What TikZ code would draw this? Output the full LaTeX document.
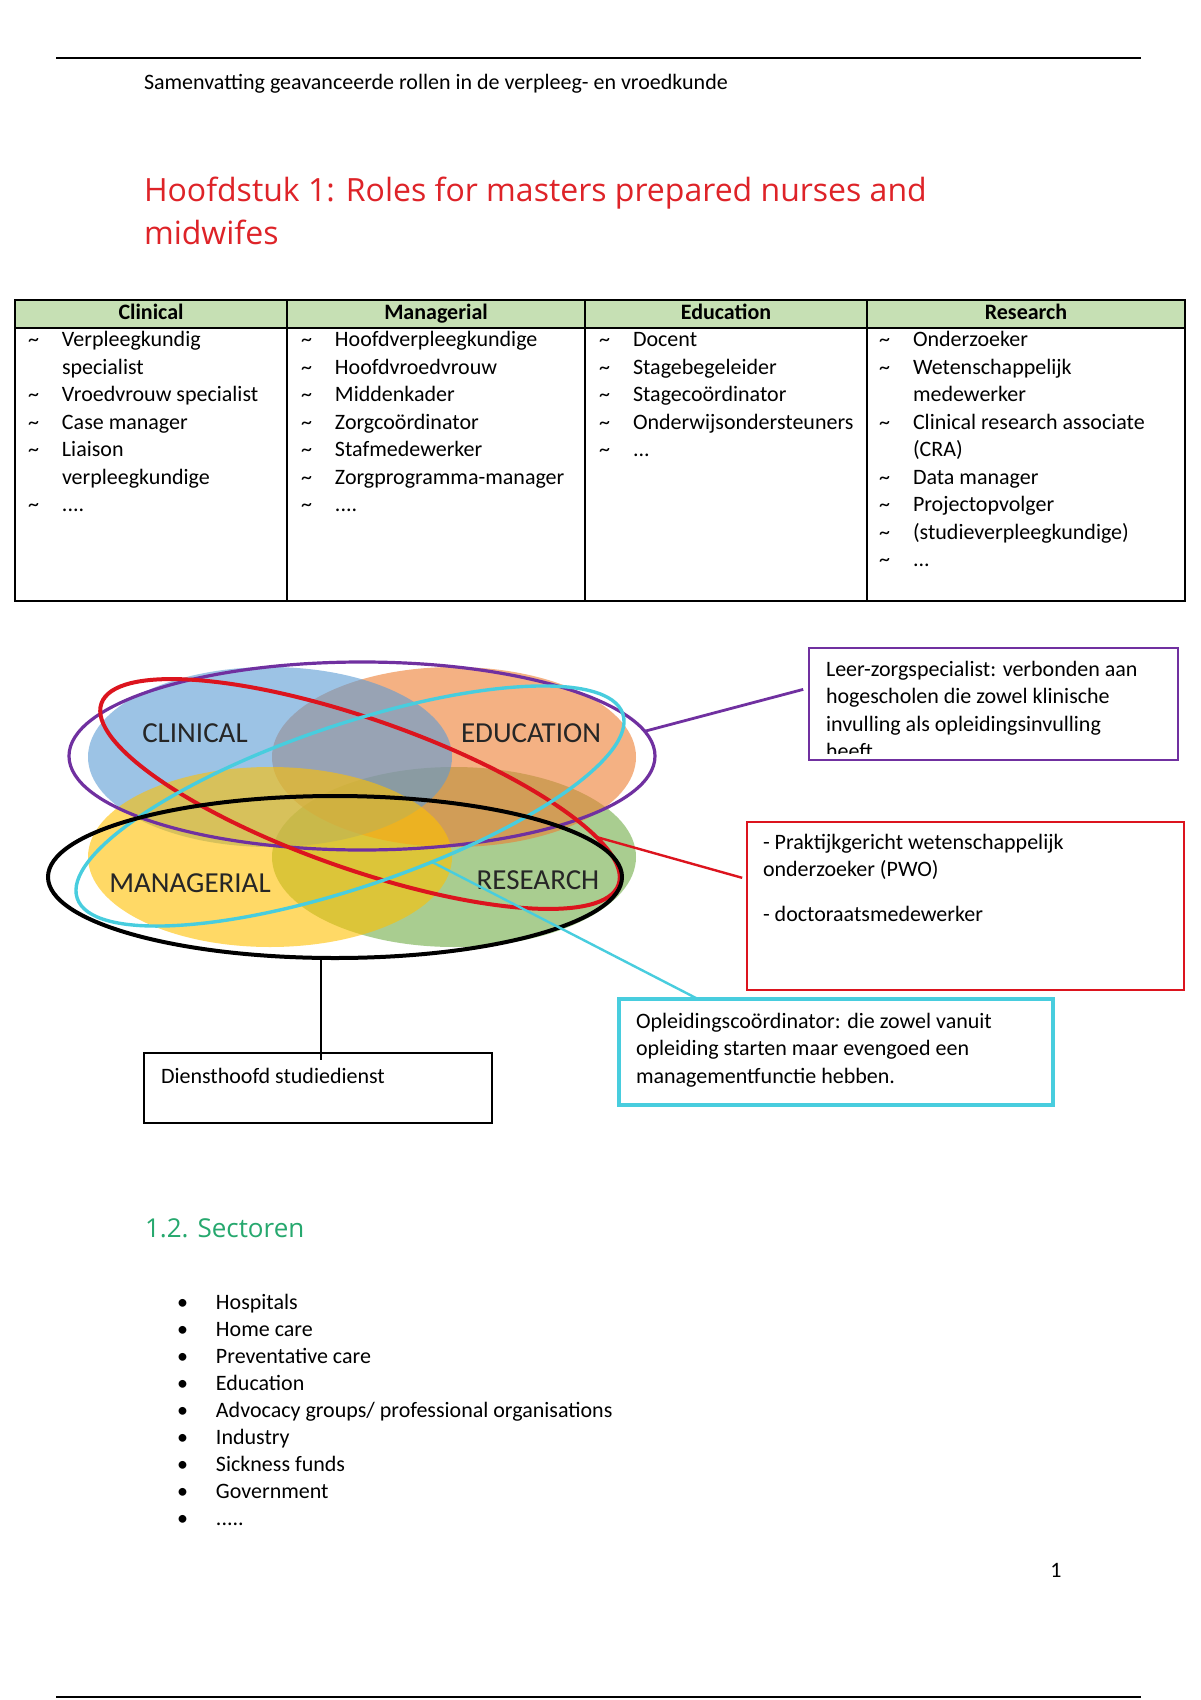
\documentclass[tikz,border=0pt]{standalone}
\usepackage{fontspec}
\setmainfont{Carlito}
\newfontfamily\headfont{Open Sans}
\usepackage{xcolor}
\usetikzlibrary{shapes.geometric,positioning}
\definecolor{TitleRed}{RGB}{222,35,40}
\definecolor{HeadGreen}{RGB}{198,224,180}
\definecolor{SectGreen}{RGB}{38,168,110}
\definecolor{VennBlue}{RGB}{91,155,213}
\definecolor{VennOrange}{RGB}{237,125,49}
\definecolor{VennYellow}{RGB}{255,192,0}
\definecolor{VennGreen}{RGB}{112,173,71}
\definecolor{RingPurple}{RGB}{112,48,160}
\definecolor{RingRed}{RGB}{220,20,30}
\definecolor{RingCyan}{RGB}{72,205,222}
\newcommand{\bodysize}{\fontsize{11pt}{13.75pt}\selectfont}

\begin{document}
\begin{tikzpicture} [x=0.5pt, y=-0.5pt, black, text=black,
	   every node/.style={inner sep=0pt, outer sep=0pt, font=\bodysize},
	   headcell/.style = {rectangle, draw, line width=1pt, fill=HeadGreen,
	                      minimum width=#1, minimum height=14pt, anchor=north west,
	                      font=\bodysize\bfseries, text height=1.5ex, text depth=.25ex},
	   bodycell/.style = {rectangle, draw, line width=1pt, minimum width=#1,
	                      minimum height=136.5pt, anchor=north west},
	   vennset/.style = {ellipse, fill=#1, fill opacity=0.6,
	                     minimum width=182pt, minimum height=90pt},
	   vennlabel/.style = {font=\fontsize{14.5pt}{17pt}\selectfont, text=black!85},
	   ring/.style 2 args = {ellipse, draw=#1, line width=#2},
	   notebox/.style 2 args = {rectangle, draw=#1, line width=#2, fill=white,
	                            anchor=north west}]
	%% Page
	\path[use as bounding box, fill=white] (0,0) rectangle (1200,1700);
	\draw[line width=1pt] (56,58) -- (1141,58);
	\draw[line width=1pt] (56,1697) -- (1141,1697);
	\node [anchor=base west] (runhead) at (144,90)
	      {Samenvatting geavanceerde rollen in de verpleeg- en vroedkunde};
	\node [anchor=base west, font=\headfont\fontsize{16pt}{21.5pt}\selectfont, text=TitleRed] (title) at (144,202)
	      {\begin{tabular}[t]{@{}l@{}}Hoofdstuk 1: Roles for masters prepared nurses and\\ midwifes\end{tabular}};

	%% Table
	\node [headcell=136pt] (hclin) at (15,300) {Clinical};
	\node [headcell=149pt, right=0pt of hclin] (hman) {Managerial};
	\node [headcell=141pt, right=0pt of hman] (hedu) {Education};
	\node [headcell=159pt, right=0pt of hedu] (hres) {Research};
	\node [bodycell=136pt] (bclin) at (hclin.south west) {};
	\node [bodycell=149pt] (bman) at (hman.south west) {};
	\node [bodycell=141pt] (bedu) at (hedu.south west) {};
	\node [bodycell=159pt] (bres) at (hres.south west) {};
	\node [anchor=base west] (clinlist) at (28,347)
	      {\begin{tabular}[t]{@{}p{17pt}@{}l@{}}
	       \textasciitilde & Verpleegkundig\\ & specialist\\
	       \textasciitilde & Vroedvrouw specialist\\ \textasciitilde & Case manager\\
	       \textasciitilde & Liaison\\ & verpleegkundige\\ \textasciitilde & ....\end{tabular}};
	\node [anchor=base west] (manlist) at (301,347)
	      {\begin{tabular}[t]{@{}p{17pt}@{}l@{}}
	       \textasciitilde & Hoofdverpleegkundige\\ \textasciitilde & Hoofdvroedvrouw\\
	       \textasciitilde & Middenkader\\ \textasciitilde & Zorgcoördinator\\
	       \textasciitilde & Stafmedewerker\\ \textasciitilde & Zorgprogramma-manager\\
	       \textasciitilde & ....\end{tabular}};
	\node [anchor=base west] (edulist) at (599,347)
	      {\begin{tabular}[t]{@{}p{17pt}@{}l@{}}
	       \textasciitilde & Docent\\ \textasciitilde & Stagebegeleider\\
	       \textasciitilde & Stagecoördinator\\ \textasciitilde & Onderwijsondersteuners\\
	       \textasciitilde & ...\end{tabular}};
	\node [anchor=base west] (reslist) at (879,347)
	      {\begin{tabular}[t]{@{}p{17pt}@{}l@{}}
	       \textasciitilde & Onderzoeker\\ \textasciitilde & Wetenschappelijk\\ & medewerker\\
	       \textasciitilde & Clinical research associate\\ & (CRA)\\
	       \textasciitilde & Data manager\\ \textasciitilde & Projectopvolger\\
	       \textasciitilde & (studieverpleegkundige)\\ \textasciitilde & ...\end{tabular}};

	%% Venn sets
	\node [vennset=VennGreen] (research) at (454,857) {};
	\node [vennset=VennOrange] (education) at (454,757) {};
	\node [vennset=VennBlue] (clinical) at (270,757) {};
	\node [vennset=VennYellow] (managerial) at (270,857) {};
	\node [vennlabel] (clinlab) at (195,733) {CLINICAL};
	\node [vennlabel] (edulab) at (531,733) {EDUCATION};
	\node [vennlabel] (manlab) at (190,883) {MANAGERIAL};
	\node [vennlabel] (reslab) at (538,880) {RESEARCH};

	%% Rings round the sets
	\node [ring={RingPurple}{1.6pt}, minimum width=293pt, minimum height=94pt] (purplering) at (362,756) {};
	\node [ring={RingRed}{2pt}, minimum width=274pt, minimum height=75pt, rotate=-19.3] (redring) at (360,794) {};
	\node [ring={RingCyan}{1.7pt}, minimum width=288pt, minimum height=81pt, rotate=18.7] (cyanring) at (350,806) {};
	\node [ring={black}{2pt}, minimum width=287pt, minimum height=81pt] (blackring) at (335,877) {};

	%% Notes
	\node [notebox={RingPurple}{1.4pt}, minimum width=184.5pt, minimum height=56pt] (leerbox) at (809,648) {};
	\begin{scope}
		\clip (leerbox.north west) rectangle ([yshift=3.5pt]leerbox.south east);
		\node [anchor=base west] (leertext) at (826,676)
		      {\begin{tabular}[t]{@{}l@{}}Leer-zorgspecialist: verbonden aan\\ hogescholen die zowel klinische\\
		       invulling als opleidingsinvulling\\ heeft\end{tabular}};
	\end{scope}
	\node [notebox={RingRed}{1.4pt}, minimum width=218.5pt, minimum height=84pt] (pwobox) at (747,822) {};
	\node [anchor=base west] (pwotext) at (763,849)
	      {\begin{tabular}[t]{@{}l@{}}- Praktijkgericht wetenschappelijk\\ onderzoeker (PWO)\\[8.75pt]
	       - doctoraatsmedewerker\end{tabular}};
	\node [notebox={RingCyan}{1.8pt}, minimum width=217pt, minimum height=53pt] (opleidbox) at (619,999) {};
	\node [anchor=base west] (opleidtext) at (636,1028)
	      {\begin{tabular}[t]{@{}l@{}}Opleidingscoördinator: die zowel vanuit\\ opleiding starten maar evengoed een\\
	       managementfunctie hebben.\end{tabular}};
	\node [notebox={black}{1pt}, minimum width=174pt, minimum height=35pt] (dienstbox) at (144,1053) {};
	\node [anchor=base west] (diensttext) at (161,1083) {Diensthoofd studiedienst};

	%% Connectors
	\draw [RingPurple, line width=1.4pt, shorten >=3pt] (purplering.5) -- (leerbox.175);
	\draw [RingRed, line width=1.2pt, shorten >=2.5pt] (redring.9) -- (pwobox.173);
	\draw [RingCyan, line width=1.2pt] (cyanring.-53) -- (opleidbox.159);
	\draw [line width=1pt, shorten >=-3.5pt] (blackring.-100) -- (blackring.-100 |- dienstbox.north);

	%% Sectoren
	\node [anchor=base west, font=\headfont\fontsize{13pt}{16pt}\selectfont, text=SectGreen] (secthead) at (145,1237) {1.2. Sectoren};
	\node [anchor=base west, font=\fontsize{11pt}{13.55pt}\selectfont] (sectlist) at (177,1309)
	      {\begin{tabular}[t]{@{}p{19.5pt}@{}l@{}}
	       \textbullet & Hospitals\\ \textbullet & Home care\\ \textbullet & Preventative care\\
	       \textbullet & Education\\ \textbullet & Advocacy groups/ professional organisations\\
	       \textbullet & Industry\\ \textbullet & Sickness funds\\ \textbullet & Government\\
	       \textbullet & .....\end{tabular}};
	\node [anchor=base] (pagenum) at (1056,1577) {1};
\end{tikzpicture}
\end{document}
